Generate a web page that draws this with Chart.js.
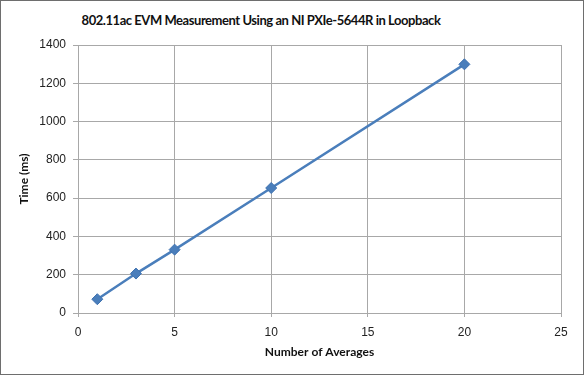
<!DOCTYPE html>
<html>
<head>
<meta charset="utf-8">
<script src="https://cdn.jsdelivr.net/npm/chart.js@4"></script>
<style>
    html, body { margin: 0; padding: 0; background: #fff; }
    .frame {
        position: relative;
        width: 584px;
        height: 375px;
        box-sizing: border-box;
        border: 1px solid #6e6e6e;
        background: #fff;
    }
    .title {
        position: absolute;
        top: 11px;
        left: 0;
        width: 520px;
        text-align: center;
        font: bold 13px Lato, "Liberation Sans", sans-serif;
        letter-spacing: -0.45px;
        color: #111;
    }
    canvas { position: absolute; left: 0; top: 0; }
</style>
</head>
<body>
<div class="frame">
    <div class="title">802.11ac EVM Measurement Using an NI PXIe-5644R in Loopback</div>
    <canvas id="evmChart" width="582" height="373"></canvas>
</div>
<script>
const averages = [1, 3, 5, 10, 20];
const timesMs = [72, 206, 331, 653, 1299];
const xTicks = [0, 5, 10, 15, 20, 25];
const yTicks = [0, 200, 400, 600, 800, 1000, 1200, 1400];

document.addEventListener('DOMContentLoaded', () => {
    const ctx = document.getElementById('evmChart').getContext('2d');
    const gridColor = '#a8a8a8';
    const tickFont = { family: '"Liberation Sans", Arial, sans-serif', size: 12 };
    const titleFont = { family: 'Lato, "Liberation Sans", sans-serif', size: 12, weight: 'bold' };

    new Chart(ctx, {
        type: 'line',
        data: {
            datasets: [{
                label: 'Time (ms)',
                data: averages.map((n, i) => ({ x: n, y: timesMs[i] })),
                borderColor: '#4a7ebb',
                backgroundColor: '#4a7ebb',
                borderWidth: 2.5,
                pointStyle: 'rectRot',
                pointRadius: 5.5,
                pointBorderWidth: 1,
                pointBorderColor: '#3f72b0',
                pointBackgroundColor: '#4a7ebb',
                tension: 0,
                fill: false
            }]
        },
        options: {
            responsive: false,
            animation: false,
            layout: { padding: { top: 44, right: 22, left: 0, bottom: 0 } },
            scales: {
                x: {
                    type: 'linear',
                    min: xTicks[0],
                    max: xTicks[xTicks.length - 1],
                    afterBuildTicks: scale => { scale.ticks = xTicks.map(v => ({ value: v })); },
                    afterFit: scale => { scale.height = 61; },
                    grid: { color: gridColor, tickLength: 4, drawTicks: true },
                    border: { color: gridColor },
                    ticks: { color: '#222', font: tickFont, padding: 8, maxRotation: 0, callback: v => String(v) },
                    title: {
                        display: true,
                        text: 'Number of Averages',
                        color: '#111',
                        font: titleFont,
                        padding: { top: 0, bottom: 15 }
                    }
                },
                y: {
                    min: yTicks[0],
                    max: yTicks[yTicks.length - 1],
                    afterBuildTicks: scale => { scale.ticks = yTicks.map(v => ({ value: v })); },
                    afterFit: scale => { scale.width = 77; },
                    grid: { color: gridColor, tickLength: 5, drawTicks: true },
                    border: { color: gridColor },
                    ticks: { color: '#222', font: tickFont, padding: 7, callback: v => String(v) },
                    title: {
                        display: true,
                        text: 'Time (ms)',
                        color: '#111',
                        font: titleFont,
                        padding: { top: 16, bottom: 0 }
                    }
                }
            },
            plugins: {
                legend: { display: false },
                tooltip: { enabled: false }
            }
        }
    });
});
</script>
</body>
</html>
